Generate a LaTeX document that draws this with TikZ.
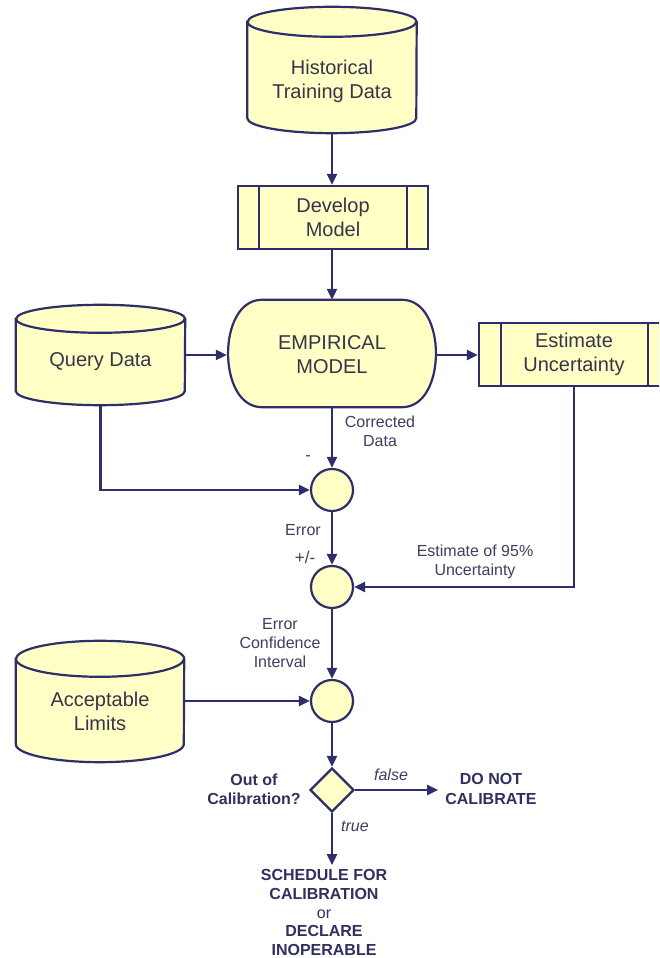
\documentclass[tikz,border=0pt]{standalone}
\usepackage{fontspec}
\setmainfont{Liberation Sans}
\usetikzlibrary{arrows.meta,shapes.geometric}
\definecolor{fillY}{HTML}{FFFFC6}
\definecolor{navy}{HTML}{2E2E6B}
\definecolor{txt}{HTML}{35354A}
\definecolor{lbl}{HTML}{3E3E62}
\definecolor{bld}{HTML}{30305E}
\newcommand{\drawcyl}[3]{%
  \draw[shapeline] ([yshift=-#3]#1.north west) -- ([yshift=#3]#1.south west)
    arc[start angle=180,end angle=360,x radius=#2,y radius=#3]
    -- ([yshift=-#3]#1.north east)
    arc[start angle=0,end angle=180,x radius=#2,y radius=#3] -- cycle;
  \draw[shapeline,fill=none] ([yshift=-#3]#1.north west)
    arc[start angle=180,end angle=360,x radius=#2,y radius=#3];
}
\begin{document}
\begin{tikzpicture}[x=1pt,y=1pt,
  shapeline/.style={draw=navy,line width=2.2pt,fill=fillY},
  conn/.style={draw=navy,line width=2.2pt,-{Triangle[length=11pt,width=10pt]}},
  plainline/.style={draw=navy,line width=2.2pt},
  big/.style={font=\fontsize{20}{24}\selectfont,text=txt,align=center},
  small/.style={font=\fontsize{16}{19}\selectfont,text=lbl,align=center},
  boldl/.style={font=\fontsize{16}{19.5}\selectfont\bfseries,text=bld,align=center},
  ghost/.style={draw=none,inner sep=0pt},
  circ/.style={circle,shapeline,minimum size=42pt,inner sep=0pt},
  diam/.style={diamond,shapeline,minimum width=44pt,minimum height=44pt,inner sep=0pt},
  procbox/.style={rectangle,shapeline,minimum width=190pt,minimum height=63pt,inner sep=0pt,big}
]
\clip (0,0) rectangle (659,958);
\fill[white] (0,0) rectangle (659,958);

% Historical Training Data cylinder
\node[ghost,minimum width=169pt,minimum height=126pt] (htd) at (332,888) {};
\drawcyl{htd}{84.5}{15}
\node[big] (htdT) at (332,877) {Historical\\Training Data};

% Develop Model
\node[procbox] (dev) at (333,740.5) {Develop\\Model};
\draw[plainline] ([xshift=22]dev.north west) -- ([xshift=22]dev.south west);
\draw[plainline] ([xshift=-22]dev.north east) -- ([xshift=-22]dev.south east);

% Empirical model
\node[ghost,minimum width=210pt,minimum height=107pt] (emp) at (332,604.5) {};
\draw[shapeline] ([xshift=35]emp.north west) -- ([xshift=-35]emp.north east)
  .. controls ([xshift=10]emp.north east) and ([xshift=10]emp.south east) .. ([xshift=-35]emp.south east)
  -- ([xshift=35]emp.south west)
  .. controls ([xshift=-10]emp.south west) and ([xshift=-10]emp.north west) .. cycle;
\node[big] (empT) at (332,603.5) {EMPIRICAL\\MODEL};

% Query Data
\node[ghost,minimum width=169pt,minimum height=100pt] (qd) at (100.5,603) {};
\drawcyl{qd}{84.5}{14}
\node[big] (qdT) at (100.5,596) {Query Data};

% Estimate Uncertainty
\node[procbox] (est) at (574,603.5) {Estimate\\Uncertainty};
\draw[plainline] ([xshift=23]est.north west) -- ([xshift=23]est.south west);
\draw[plainline] ([xshift=-22]est.north east) -- ([xshift=-22]est.south east);

% circles
\node[circ] (c1) at (332,468) {};
\node[circ] (c2) at (332,371) {};
\node[circ] (c3) at (332,257) {};

% Acceptable Limits
\node[ghost,minimum width=168pt,minimum height=121pt] (acc) at (100,256.5) {};
\drawcyl{acc}{84}{18}
\node[big] (accT) at (100,247) {Acceptable\\Limits};

% decision
\node[diam] (dia) at (332,168) {};
\node[boldl] (ooc) at (254,168.5) {Out of\\Calibration?};
\node[boldl,inner sep=7pt] (donot) at (491,169) {DO NOT\\CALIBRATE};
\node[boldl,inner sep=4pt,font=\fontsize{16}{18.75}\selectfont\bfseries] (sched) at (324,45.5)
  {SCHEDULE FOR\\CALIBRATION\\{\mdseries or}\\DECLARE\\INOPERABLE};

% connectors
\draw[conn] (htd.south) -- (htd.south |- dev.north);
\draw[conn] (emp.north |- dev.south) -- (emp.north);
\draw[conn] (qd.east) -- (qd.east -| emp.west);
\draw[conn] (emp.east |- qd.east) -- (qd.east -| est.west);
\draw[conn] (emp.south) -- (c1.north);
\draw[conn] (qd.south) |- (c1.west);
\draw[conn] (c1.south) -- (c2.north);
\draw[conn] (est.south) |- (c2.east);
\draw[conn] (c2.south) -- (c3.north);
\draw[conn] (acc.east |- c3.west) -- (c3.west);
\draw[conn] (c3.south) -- (dia.north);
\draw[conn] (dia.east) -- (donot.west |- dia.east);
\draw[conn] (dia.south) -- (dia.south |- sched.north);

% labels
\node[small] (lcorr) at (380,526.5) {Corrected\\Data};
\node[small] (lminus) at (308,500) {-};
\node[small] (lerr) at (303,428) {Error};
\node[small,font=\fontsize{17}{19}\selectfont] (lpm) at (305,401) {+/-};
\node[small] (lest) at (475,396.5) {Estimate of 95\%\\Uncertainty};
\node[small] (leci) at (280,315) {Error\\Confidence\\Interval};
\node[small,font=\fontsize{16}{19}\selectfont\itshape] (lfalse) at (391,183) {false};
\node[small,font=\fontsize{16}{19}\selectfont\itshape] (ltrue) at (355,132) {true};
\end{tikzpicture}
\end{document}
